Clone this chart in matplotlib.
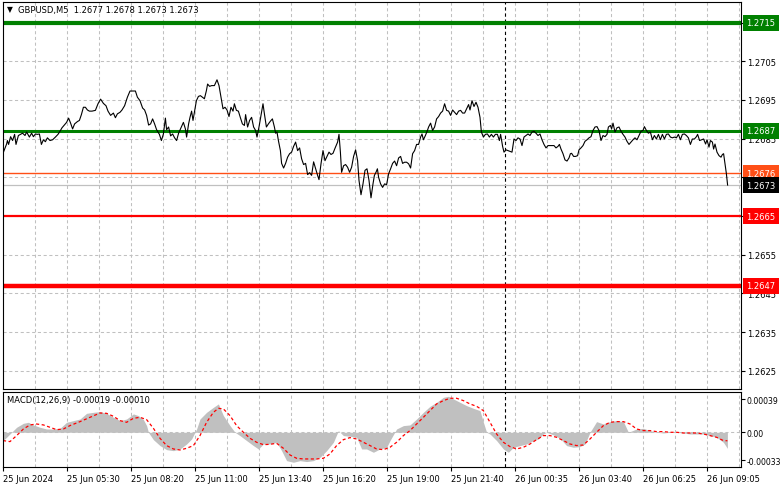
import matplotlib
matplotlib.use("Agg")
import matplotlib.pyplot as plt
import matplotlib.transforms as mtransforms
import numpy as np

# ---- price line (bar index, close) ----
price_bars = [
    0, 1.8, 2.2, 2.8, 3.8, 4.8, 5.8, 6.5, 7.7, 8.8, 9.8, 11.0, 11.8, 13.2, 14.3, 15.2,
    16.2, 17.2, 18.2, 19.2, 20.2, 21.2, 22.2, 23.5, 24.8, 26.2, 27.5, 28.5, 29.5, 30.8,
    31.8, 32.8, 33.8, 34.8, 35.8, 37.2, 38.2, 39.2, 40.2, 41.2, 42.2, 43.2, 44.5, 46.2,
    47.5, 48.8, 50.2, 51.5, 52.5, 53.8, 55.2, 56.2, 57.2, 58.5, 59.5, 60.8, 62.2, 63.5,
    64.8, 66.2, 67.2, 68.5, 69.8, 70.8, 71.8, 72.8, 73.8, 74.8, 75.8, 76.8, 78.2, 79.2,
    80.2, 81.2, 81.8, 82.8, 83.8, 84.8, 85.8, 86.8, 87.8, 89.2, 90.2, 91.2, 91.8, 92.8,
    93.5, 94.3, 95.0, 96.0, 96.7, 97.7, 98.7, 99.7, 100.7, 101.7, 102.3, 103.3, 104.3,
    105.7, 107.0, 108.0, 109.0, 110.0, 111.0, 112.0, 113.0, 114.0, 115.0, 115.7, 116.7,
    117.7, 118.7, 119.7, 120.7, 121.3, 122.3, 123.3, 124.3, 125.3, 126.3, 127.0, 128.0,
    129.0, 130.0, 130.7, 131.7, 132.7, 133.7, 134.7, 135.7, 136.3, 137.0, 137.7, 138.7,
    139.3, 140.3, 141.3, 142.3, 143.3, 144.3, 145.3, 146.3, 147.3, 148.3, 149.3, 150.3,
    151.3, 152.3, 153.3, 154.3, 155.3, 156.3, 157.3, 158.0, 159.0, 160.0, 161.0, 162.0,
    163.0, 164.0, 165.0, 166.0, 167.3, 168.0, 168.7, 169.3, 170.3, 171.3, 172.3, 173.3,
    174.3, 175.3, 176.3, 177.3, 178.0, 179.0, 180.0, 181.0, 182.0, 183.0, 184.0, 185.0,
    185.7, 186.5, 187.2, 187.8, 188.8, 189.8, 190.8, 191.8, 192.8, 193.8, 194.8, 195.8,
    196.8, 197.8, 198.8, 199.8, 200.8, 201.8, 202.8, 203.8, 204.8, 205.8, 206.8, 207.8,
    208.8, 209.5, 210.2, 211.2, 212.2, 212.8, 213.8, 214.8, 215.8, 216.8, 217.8, 218.8,
    219.8, 220.8, 221.8, 222.8, 223.8, 224.8, 225.8, 226.8, 227.8, 228.8, 229.8, 230.8,
    231.8, 232.8, 233.5, 234.5, 235.5, 236.5, 237.5, 238.5, 239.2, 240.2, 241.2, 242.2,
    243.2, 244.2, 245.2, 246.2, 247.2, 248.2, 248.8, 249.8, 250.5, 251.5, 252.5, 253.5,
    254.5, 255.5, 256.5, 257.5, 258.5, 259.5, 260.5, 261.5, 262.5, 263.5, 264.5, 265.5,
    266.5, 267.5, 268.5, 269.5, 270.5, 271.5, 272.5, 273.5, 274.5, 275.5, 276.5, 277.5,
    278.2, 279.0, 280.0, 281.0, 282.0, 283.0, 283.7, 284.3, 285.3, 286.3, 287.3, 288.0,
    289.0, 290.0, 291.0, 292.0, 293.0, 294.0, 295.0, 296.0, 297.0, 298.0, 299.0, 300.0,
    301.0, 302.0, 302.7, 303.7, 304.3, 305.0, 306.0, 307.0, 308.0, 309.0, 310.0, 311.0,
    312.0, 313.0, 314.0, 315.0, 316.0, 317.0, 318.0, 319.0, 320.0, 320.7, 321.7, 322.7,
    323.7, 324.7, 325.7, 326.7, 327.7, 328.7, 329.7, 330.7, 331.7, 332.7, 333.7, 334.7,
    335.7, 336.7, 337.7, 338.7, 339.7, 340.7, 341.7, 342.7, 343.7, 344.7, 345.7, 346.7,
    347.3, 348.3, 349.3, 350.3, 351.3, 352.0, 353.0, 353.7, 354.7, 355.3, 356.0, 357.0,
    358.0, 359.0, 359.7, 360.3, 361.0, 361.7, 362.3,
]
price_close = [
    1.26812, 1.26836, 1.26845, 1.26835, 1.26855, 1.26845, 1.26861, 1.26835, 1.26858, 1.26861,
    1.26864, 1.26858, 1.26867, 1.26854, 1.26864, 1.26855, 1.26862, 1.26861, 1.26862, 1.26835,
    1.26847, 1.26842, 1.26852, 1.26845, 1.26847, 1.26854, 1.26861, 1.26869, 1.26878, 1.26886,
    1.26892, 1.26903, 1.26890, 1.26875, 1.26888, 1.26894, 1.26897, 1.26912, 1.26931, 1.26931,
    1.26924, 1.26921, 1.26921, 1.26923, 1.26940, 1.26952, 1.26941, 1.26935, 1.26921, 1.26910,
    1.26916, 1.26904, 1.26914, 1.26918, 1.26924, 1.26935, 1.26957, 1.26973, 1.26973, 1.26973,
    1.26957, 1.26948, 1.26929, 1.26924, 1.26910, 1.26885, 1.26888, 1.26901, 1.26888, 1.26873,
    1.26861, 1.26845, 1.26862, 1.26903, 1.26873, 1.26880, 1.26857, 1.26862, 1.26852, 1.26845,
    1.26864, 1.26880, 1.26892, 1.26875, 1.26854, 1.26888,
    1.26905, 1.26921, 1.26897, 1.26927, 1.26948, 1.26959, 1.26961, 1.26957, 1.26953, 1.26974,
    1.26991, 1.26985, 1.26987, 1.26987, 1.27002, 1.26987, 1.26957, 1.26927, 1.26931, 1.26924,
    1.26907, 1.26931, 1.26921, 1.26940, 1.26923, 1.26921, 1.26904, 1.26888, 1.26884, 1.26912,
    1.26880, 1.26897, 1.26905, 1.26880, 1.26871, 1.26854, 1.26880, 1.26910, 1.26940, 1.26914,
    1.26880, 1.26888, 1.26895, 1.26901, 1.26880, 1.26864, 1.26867, 1.26845, 1.26819, 1.26786,
    1.26774, 1.26786, 1.26802, 1.26811, 1.26815, 1.26830, 1.26841, 1.26819, 1.26826, 1.26798,
    1.26783, 1.26786, 1.26757, 1.26762, 1.26755, 1.26790, 1.26772, 1.26755, 1.26744, 1.26785,
    1.26819, 1.26793, 1.26804, 1.26815, 1.26809, 1.26812, 1.26825, 1.26841, 1.26861, 1.26815,
    1.26763, 1.26780, 1.26783, 1.26776, 1.26763, 1.26776, 1.26804, 1.26821, 1.26793, 1.26742,
    1.26705, 1.26733, 1.26768, 1.26772, 1.26742, 1.26697, 1.26733, 1.26755,
    1.26763, 1.26772, 1.26750, 1.26733, 1.26724, 1.26733, 1.26731, 1.26759, 1.26772, 1.26786,
    1.26792, 1.26780, 1.26800, 1.26804, 1.26786, 1.26789, 1.26789, 1.26785, 1.26774, 1.26811,
    1.26819, 1.26835, 1.26835, 1.26854, 1.26862, 1.26847, 1.26858, 1.26871, 1.26880, 1.26890,
    1.26871, 1.26880, 1.26901, 1.26907, 1.26916, 1.26921, 1.26940, 1.26923, 1.26921, 1.26910,
    1.26924, 1.26918, 1.26912, 1.26921, 1.26923, 1.26916, 1.26916, 1.26927, 1.26938, 1.26924,
    1.26948, 1.26933, 1.26944, 1.26931, 1.26905, 1.26867, 1.26854, 1.26861, 1.26862, 1.26854,
    1.26861, 1.26854, 1.26861, 1.26861, 1.26845, 1.26861, 1.26830, 1.26815, 1.26821, 1.26819,
    1.26817, 1.26815, 1.26849, 1.26845, 1.26852, 1.26849, 1.26832, 1.26854, 1.26858, 1.26862,
    1.26858, 1.26867, 1.26869, 1.26864, 1.26858, 1.26862, 1.26847, 1.26835, 1.26826, 1.26832,
    1.26832, 1.26832, 1.26832, 1.26826, 1.26830, 1.26835,
    1.26823, 1.26811, 1.26795, 1.26792, 1.26800, 1.26811, 1.26812, 1.26804, 1.26804, 1.26806,
    1.26821, 1.26826, 1.26832, 1.26843, 1.26847, 1.26852, 1.26855, 1.26871, 1.26880, 1.26881,
    1.26871, 1.26845, 1.26858, 1.26855, 1.26861, 1.26880, 1.26884, 1.26875, 1.26890, 1.26867,
    1.26878, 1.26880, 1.26869, 1.26861, 1.26854, 1.26843, 1.26835, 1.26841, 1.26847, 1.26852,
    1.26847, 1.26858, 1.26869, 1.26871, 1.26881, 1.26871, 1.26864, 1.26867, 1.26847, 1.26858,
    1.26849, 1.26861, 1.26847, 1.26861, 1.26849, 1.26861, 1.26862, 1.26854, 1.26852, 1.26854,
    1.26852, 1.26861, 1.26847, 1.26861, 1.26862, 1.26858, 1.26852, 1.26835, 1.26849, 1.26849,
    1.26855, 1.26861, 1.26845, 1.26847, 1.26849, 1.26836, 1.26847, 1.26828, 1.26845, 1.26841,
    1.26823, 1.26836, 1.26815, 1.26806, 1.26802, 1.26809, 1.26811, 1.26785, 1.26759, 1.26730,
]

# ---- MACD(12,26,9) panel, values in 1e-5 ----
hist_bars = [
    0, 1.8, 4.3, 6.8, 10.2, 12.7, 15.2, 18.5, 21.8, 25.2, 28.5, 31.8, 35.2, 38.5, 41.8,
    45.2, 48.5, 51.8, 55.2, 58.5, 61.8, 65.2, 67.7, 70.2, 71.8, 72.7, 75.2, 78.5, 81.8,
    85.2, 88.5, 91.8, 94.3, 96.8, 98.5, 101.8, 105.2, 107.7, 110.2, 113.5, 116.0, 118.5,
    121.8, 125.2, 127.7, 130.2, 133.5, 136.8, 139.3, 141.8, 145.2, 148.5, 151.8, 155.2,
    158.5, 161.8, 165.2, 167.7, 170.2, 173.5, 176.8, 179.3, 181.8, 185.2, 188.5, 191.8,
    193.5, 196.8, 200.2, 203.5, 206.8, 210.2, 213.5, 216.8, 220.2, 222.7, 225.2, 228.5,
    231.8, 235.2, 238.5, 240.2, 241.8, 243.5, 246.8, 250.2, 252.7, 255.2, 258.5, 261.8,
    265.2, 267.7, 270.2, 271.8, 275.2, 278.5, 281.8, 285.2, 288.5, 291.0, 293.5, 296.8,
    300.2, 303.5, 306.8, 310.2, 312.7, 316.8, 320.2, 323.5, 326.8, 330.2, 333.5, 336.8,
    340.2, 343.5, 346.8, 350.2, 353.5, 356.8, 360.2, 362.2,
]
hist_vals = [
    -9.8, -5.9, 0, 5.9, 10.6, 11.8, 8.7, 5.9, 3.9, 3.9, 4.7, 11.8, 13.8, 15.7, 22.4,
    23.6, 24.4, 22.4, 17.7, 13.8, 15.7, 21.7, 19.7, 15.0, 7.9, 0, -8.7, -15.7, -20.5,
    -21.7, -19.7, -13.8, -7.9, 3.9, 15.7, 23.6, 29.5, 33.5, 19.7, 7.9, 0, -3.9,
    -9.8, -15.7, -19.7, -13.8, -13.8, -11.8, -21.7, -33.5, -35.4, -33.5, -34.6, -33.5,
    -29.5, -21.7, -11.8, 2.0, -3.9, -4.7, -5.9, -19.7, -19.7, -23.6, -19.7, -17.7,
    -9.8, 3.9, 7.9, 8.7, 15.7, 23.6, 30.7, 35.4, 41.3, 42.5, 39.4, 35.4,
    31.5, 28.3, 25.6, 11.8, 0, -2.0, -9.8, -19.7, -23.6, -17.7, -15.7, -13.8,
    -9.8, -7.9, -2.0, 0, -3.1, -7.1, -15.7, -17.7, -16.9, -13.8, 0, 12.6,
    9.8, 12.6, 13.8, 12.6, 0, 3.9, 4.7, 2.0, 0, -0.8, 0, 0,
    -0.8, -2.0, -2.0, -2.0, -3.9, -5.9, -11.8, -19.0,
]
signal_bars = [
    0, 3.5, 6.8, 10.2, 13.5, 16.8, 20.2, 23.5, 26.8, 30.2, 33.5, 38.5, 43.5, 48.5, 51.8,
    55.2, 58.5, 61.8, 65.2, 68.5, 71.8, 75.2, 78.5, 81.8, 85.2, 88.5, 91.8, 95.2, 98.5,
    101.8, 105.2, 107.7, 110.2, 113.5, 116.8, 120.2, 123.5, 126.8, 130.2, 133.5, 136.8,
    140.2, 143.5, 146.8, 150.2, 153.5, 156.8, 160.2, 163.5, 166.8, 170.2, 173.5, 176.8,
    180.2, 183.5, 186.8, 190.2, 193.5, 196.8, 200.2, 203.5, 206.8, 210.2, 213.5, 216.8,
    220.2, 223.5, 226.8, 230.2, 233.5, 236.8, 240.2, 243.5, 246.8, 250.2, 253.5, 256.8,
    260.2, 263.5, 266.8, 270.2, 273.5, 276.8, 280.2, 283.5, 286.8, 290.2, 293.5, 296.8,
    300.2, 303.5, 306.8, 310.2, 313.5, 316.8, 320.2, 323.5, 326.8, 330.2, 333.5, 336.8,
    340.2, 343.5, 346.8, 350.2, 353.5, 356.8, 360.2, 362.2,
]
signal_vals = [
    -9.8, -11.0, -3.9, 3.9, 8.7, 9.8, 8.7, 5.9, 3.1, 3.9, 7.9, 12.6, 17.7, 22.8, 22.4,
    18.9, 13.8, 11.8, 16.5, 17.7, 15.0, 4.7, -7.1, -15.7, -19.7, -20.9, -18.9, -15.7, -3.9,
    11.8, 23.6, 28.3, 27.6, 19.7, 7.9, 0, -7.1, -11.8, -14.6, -14.2, -13.0,
    -18.9, -26.8, -30.7, -31.5, -31.5, -31.5, -30.7, -25.6, -15.7, -8.7, -6.3, -7.9,
    -11.8, -15.7, -19.7, -20.5, -17.7, -11.8, -3.9, 2.0, 9.8, 17.7, 25.6, 33.5,
    37.4, 40.2, 40.2, 37.4, 33.5, 30.7, 25.6, 11.8, -2.0, -11.8, -16.9, -19.7,
    -17.7, -13.8, -8.7, -3.9, -3.9, -5.9, -9.8, -13.8, -15.7, -15.0, -7.9, 0,
    7.9, 11.8, 12.6, 12.6, 9.8, 3.9, 2.0, 2.0, 0.8, 0.8, 0, 0,
    -0.8, -0.8, -0.8, -2.0, -3.9, -5.9, -9.8, -10.0,
]

# horizontal levels and their labels
resistance_levels = [1.2715, 1.2687]
support_levels = [1.2665, 1.2647]
marked_price = 1.2676
bid_price = 1.2673
price_ticks = [1.2625, 1.2635, 1.2645, 1.2655, 1.2665, 1.2675, 1.2685, 1.2695, 1.2705, 1.2715]
hidden_ticks = [1.2665, 1.2675, 1.2715]  # fully covered by the level tags
macd_ticks = [0.00039, 0.0, -0.00033]
macd_tick_labels = ["0.00039", "0.00", "-0.00033"]

time_labels = ["25 Jun 2024", "25 Jun 05:30", "25 Jun 08:20", "25 Jun 11:00",
               "25 Jun 13:40", "25 Jun 16:20", "25 Jun 19:00", "25 Jun 21:40",
               "26 Jun 00:35", "26 Jun 03:40", "26 Jun 06:25", "26 Jun 09:05"]
day_break_bar = 251

title = "GBPUSD,M5  1.2677 1.2678 1.2673 1.2673"
macd_title = "MACD(12,26,9) -0.00019 -0.00010"

# ---------------------------------------------------------------
plt.rcParams['font.family'] = ['DejaVu Sans']
plt.rcParams['axes.unicode_minus'] = False
W, H = 781, 489
fig = plt.figure(figsize=(W / 100, H / 100), dpi=100)
fig.patch.set_facecolor('white')

x0, x1 = 3, 740.5
ax = fig.add_axes([x0 / W, 1 - 390 / H, (x1 - x0) / W, (390 - 3) / H])
ax2 = fig.add_axes([x0 / W, 1 - 468 / H, (x1 - x0) / W, (468 - 393) / H])

nbars = (x1 - x0) / 2.0
grid_kw = dict(color='#c0c0c0', lw=0.75, dashes=(3, 2.5), zorder=0)
grid_x = np.arange(16, nbars, 16)
tick_bars = [32 * i for i in range(len(time_labels))]

for a in (ax, ax2):
    a.set_xlim(0, nbars)
    for gx in grid_x:
        a.axvline(gx, **grid_kw)
    for s in a.spines.values():
        s.set_color('black')
        s.set_linewidth(0.8)
    a.axvline(day_break_bar, color='black', lw=0.8, dashes=(3, 2.5), zorder=1)

# main panel
ax.set_ylim(1.26203, 1.27203)
for p in price_ticks:
    ax.axhline(p, **grid_kw)
ax.set_xticks([])
ax.yaxis.tick_right()
ax.set_yticks(price_ticks)
ax.set_yticklabels(["" if p in hidden_ticks else f"{p:.4f}" for p in price_ticks])
ax.tick_params(axis='y', direction='out', length=3, width=0.8, labelsize=6, pad=2)

ax.axhline(bid_price, color='#c0c0c0', lw=0.9, zorder=1)
ax.axhline(marked_price, color='#ff4f17', lw=1.0, zorder=1)
for p in resistance_levels:
    ax.axhline(p, color='#008000', lw=3.0 if p == resistance_levels[0] else 2.2, zorder=2)
for p in support_levels:
    ax.axhline(p, color='#ff0000', lw=1.6 if p == support_levels[0] else 3.2, zorder=2)

ax.plot(price_bars, price_close, color='black', lw=0.8, zorder=3)

trans = mtransforms.blended_transform_factory(ax.transAxes, ax.transData)
box_items = [(resistance_levels[0], '#008000'), (resistance_levels[1], '#008000'),
             (marked_price, '#ff4f17'), (bid_price, '#000000'),
             (support_levels[0], '#ff0000'), (support_levels[1], '#ff0000')]
for p, c in box_items:
    ax.text(1.0075, p, f"{p:.4f}", transform=trans, ha='left', va='center',
            color='white', fontsize=6, clip_on=False, zorder=5,
            bbox=dict(boxstyle='square,pad=0.42', fc=c, ec='none'))

fig.text(7 / W, 1 - 10 / H, "\u25bc", fontsize=5.5, va='center', ha='left')
fig.text(18 / W, 1 - 10 / H, title, fontsize=6, va='center', ha='left')

# MACD panel
ax2.set_ylim(-0.00041, 0.000476)
ax2.axhline(0, **grid_kw)
ax2.fill_between(hist_bars, np.array(hist_vals) * 1e-5, 0,
                 color='#c0c0c0', lw=0, zorder=1)
ax2.plot(signal_bars, np.array(signal_vals) * 1e-5, color='#ff0000', lw=0.9,
         dashes=(2.5, 2), zorder=2)
ax2.yaxis.tick_right()
ax2.set_yticks(macd_ticks)
ax2.set_yticklabels(macd_tick_labels)
ax2.tick_params(axis='y', direction='out', length=3, width=0.8, labelsize=5.6, pad=1.5)
ax2.set_xticks(tick_bars)
ax2.set_xticklabels(time_labels, ha='left')
ax2.tick_params(axis='x', direction='out', length=3, width=0.8, labelsize=6, pad=2)
fig.text(7 / W, 1 - 401 / H, macd_title, fontsize=6, va='center', ha='left')

fig.savefig('out.png', dpi=100, facecolor='white')
